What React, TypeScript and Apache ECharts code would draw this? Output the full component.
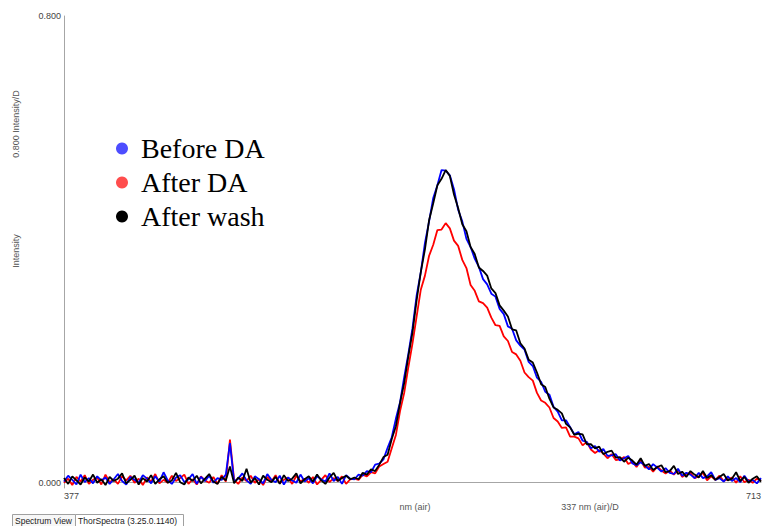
import React, { useEffect, useRef } from "react";
import * as echarts from "echarts";

// Wavelength grid (nm): 377 → 713, every 2 nm
const startNm = 377;
const stepNm = 2;

const xTicks = [377, 713];
const yTicks = [0, 0.8];

const seriesNames = ["Before DA", "After DA", "After wash"];

// Intensity values (377..515 nm baseline, then 517..713 nm)
const beforeDA = [
  0.002, 0.012, 0.005, -0.003, 0.014, 0.001, 0.008, -0.001, 0.011, 0.004,
  0.009, -0.002, 0.006, 0.015, 0.003, -0.003, 0.010, 0.005, 0.000, 0.013,
  0.007, -0.001, 0.011, 0.002, 0.018, 0.004, -0.002, 0.009, 0.013, 0.001,
  0.006, 0.015, -0.002, 0.010, 0.003, 0.012, 0.000, 0.008, 0.005, 0.014,
  0.068, 0.002, 0.007, 0.016, 0.004, -0.002, 0.011, 0.006, -0.001, 0.015,
  0.005, 0.001, 0.012, -0.003, 0.009, 0.004, 0.000, 0.014, 0.002, 0.008,
  -0.001, 0.011, 0.006, 0.002, 0.016, 0.003, 0.010, -0.002, 0.013, 0.007,
  0.006, 0.014, 0.012, 0.020, 0.018, 0.031, 0.033, 0.040, 0.060, 0.078,
  0.110, 0.138, 0.181, 0.221, 0.265, 0.321, 0.361, 0.411, 0.448, 0.488,
  0.510, 0.536, 0.535, 0.527, 0.503, 0.468, 0.448, 0.418, 0.404, 0.384,
  0.370, 0.349, 0.340, 0.324, 0.319, 0.298, 0.289, 0.268, 0.264, 0.244,
  0.235, 0.228, 0.207, 0.200, 0.180, 0.173, 0.156, 0.151, 0.130, 0.122,
  0.107, 0.107, 0.095, 0.083, 0.087, 0.072, 0.070, 0.059, 0.063, 0.053,
  0.058, 0.046, 0.047, 0.049, 0.038, 0.042, 0.046, 0.033, 0.030, 0.035,
  0.030, 0.023, 0.032, 0.026, 0.019, 0.025, 0.017, 0.015, 0.024, 0.012,
  0.017, 0.014, 0.008, 0.017, 0.008, 0.011, 0.018, 0.005, 0.008, 0.002,
  0.011, 0.003, 0.008, 0.001, 0.012, 0.002, 0.005, -0.001, 0.008,
];

const afterDA = [
  0.000, 0.007, -0.004, 0.010, 0.002, 0.013, -0.002, 0.005, 0.009, -0.003,
  0.014, 0.001, 0.006, -0.002, 0.011, 0.004, 0.012, 0.000, 0.007, -0.004,
  0.009, 0.002, 0.015, -0.001, 0.005, 0.000, 0.012, 0.003, 0.008, 0.014,
  -0.002, 0.006, -0.003, 0.011, 0.004, 0.000, 0.010, -0.002, 0.013, 0.002,
  0.074, 0.005, -0.002, 0.009, 0.003, 0.012, 0.000, 0.006, -0.004, 0.010,
  0.002, 0.013, -0.001, 0.005, 0.009, -0.002, 0.012, 0.002, 0.007, 0.000,
  0.010, -0.003, 0.005, 0.013, 0.001, 0.008, 0.003, 0.011, -0.002, 0.006,
  0.007, 0.005, 0.014, 0.011, 0.018, 0.016, 0.028, 0.032, 0.036, 0.059,
  0.082, 0.123, 0.154, 0.198, 0.239, 0.285, 0.331, 0.355, 0.389, 0.408,
  0.433, 0.434, 0.445, 0.436, 0.415, 0.406, 0.382, 0.368, 0.339, 0.329,
  0.311, 0.308, 0.300, 0.283, 0.270, 0.269, 0.251, 0.243, 0.224, 0.220,
  0.209, 0.189, 0.181, 0.175, 0.154, 0.141, 0.137, 0.129, 0.111, 0.105,
  0.094, 0.095, 0.079, 0.079, 0.076, 0.064, 0.070, 0.057, 0.051, 0.056,
  0.050, 0.042, 0.049, 0.039, 0.040, 0.044, 0.032, 0.036, 0.027, 0.038,
  0.026, 0.027, 0.019, 0.028, 0.021, 0.016, 0.021, 0.014, 0.022, 0.010,
  0.015, 0.017, 0.008, 0.011, 0.017, 0.004, 0.011, 0.005, 0.012, 0.003,
  0.006, 0.009, 0.000, 0.011, 0.001, 0.005, 0.000, 0.007, 0.003,
];

const afterWash = [
  0.008, -0.002, 0.011, 0.004, -0.003, 0.009, 0.002, 0.014, 0.000, 0.006,
  -0.004, 0.010, 0.003, 0.007, 0.016, -0.001, 0.005, 0.012, -0.003, 0.008,
  0.002, 0.013, -0.002, 0.006, 0.011, 0.000, 0.004, 0.017, 0.001, -0.003,
  0.009, 0.003, 0.012, -0.001, 0.007, 0.015, 0.002, -0.002, 0.010, 0.004,
  0.028, -0.001, 0.009, 0.003, 0.024, 0.000, 0.008, -0.003, 0.012, 0.005,
  0.001, 0.010, -0.002, 0.013, 0.003, 0.007, 0.016, -0.001, 0.006, 0.011,
  0.002, 0.014, 0.004, -0.002, 0.009, 0.017, 0.003, 0.008, 0.012, 0.006,
  0.009, 0.006, 0.017, 0.014, 0.023, 0.020, 0.031, 0.044, 0.048, 0.075,
  0.097, 0.137, 0.171, 0.217, 0.258, 0.313, 0.361, 0.400, 0.450, 0.479,
  0.510, 0.521, 0.536, 0.526, 0.494, 0.471, 0.443, 0.431, 0.404, 0.392,
  0.369, 0.363, 0.355, 0.333, 0.325, 0.304, 0.295, 0.285, 0.263, 0.261,
  0.239, 0.230, 0.211, 0.206, 0.189, 0.169, 0.164, 0.144, 0.129, 0.125,
  0.119, 0.101, 0.095, 0.082, 0.084, 0.083, 0.066, 0.066, 0.059, 0.062,
  0.049, 0.053, 0.055, 0.043, 0.044, 0.036, 0.043, 0.038, 0.031, 0.042,
  0.029, 0.032, 0.022, 0.027, 0.030, 0.018, 0.020, 0.029, 0.015, 0.019,
  0.010, 0.020, 0.014, 0.009, 0.020, 0.008, 0.013, 0.005, 0.010, 0.015,
  0.004, 0.007, 0.018, 0.003, 0.010, 0.000, 0.007, 0.011, 0.002,
];

const toPairs = (vals: number[]) => vals.map((v, i) => [startNm + i * stepNm, v]);

const labelFont = "'Liberation Sans', Arial, sans-serif";

export default function App() {
  const ref = useRef<HTMLDivElement>(null);

  useEffect(() => {
    if (!ref.current) return;
    const chart = echarts.init(ref.current, null, { renderer: "svg" });
    const lineSeries = (name: string, data: number[], color: string, z: number) => ({
      name,
      type: "line",
      data: toPairs(data),
      showSymbol: false,
      symbol: "none",
      lineStyle: { color, width: 1.8 },
      itemStyle: { color },
      z,
      emphasis: { disabled: true },
    });
    chart.setOption({
      animation: false,
      backgroundColor: "#ffffff",
      grid: { left: 64, right: 1, top: 16, bottom: 38, containLabel: false },
      xAxis: {
        type: "value",
        min: 377,
        max: 713,
        axisLine: { show: true, lineStyle: { color: "#a6a6a6", width: 1 } },
        axisTick: { show: false },
        splitLine: { show: false },
        axisLabel: {
          customValues: xTicks,
          alignMinLabel: "left",
          alignMaxLabel: "right",
          fontSize: 9,
          color: "#444",
          fontFamily: labelFont,
          margin: 3,
          formatter: (v: number) => String(Math.round(v)),
        },
      },
      yAxis: {
        type: "value",
        min: -0.009,
        max: 0.8,
        axisLine: { show: true, lineStyle: { color: "#a6a6a6", width: 1 } },
        axisTick: { show: false },
        splitLine: { show: false },
        axisLabel: {
          customValues: yTicks,
          fontSize: 9,
          color: "#444",
          fontFamily: labelFont,
          margin: 3,
          formatter: (v: number) => v.toFixed(3),
        },
      },
      legend: {
        orient: "vertical",
        left: 111,
        top: 129,
        icon: "circle",
        itemWidth: 28,
        itemHeight: 12,
        itemGap: 5,
        selectedMode: false,
        data: [
          { name: seriesNames[0], itemStyle: { color: "#4d4dff" } },
          { name: seriesNames[1], itemStyle: { color: "#ff4d4d" } },
          { name: seriesNames[2], itemStyle: { color: "#000000" } },
        ],
        textStyle: {
          fontFamily: "'Liberation Serif', 'Times New Roman', serif",
          fontSize: 28,
          lineHeight: 29,
          color: "#000",
        },
      },
      graphic: [
        {
          type: "text",
          x: 16,
          y: 251,
          rotation: Math.PI / 2,
          style: {
            text: "Intensity",
            fontSize: 9,
            fontFamily: labelFont,
            fill: "#555",
            align: "center",
            verticalAlign: "middle",
          },
        },
        {
          type: "text",
          x: 16,
          y: 124,
          rotation: Math.PI / 2,
          style: {
            text: "0.800 Intensity/D",
            fontSize: 9,
            fontFamily: labelFont,
            fill: "#555",
            align: "center",
            verticalAlign: "middle",
          },
        },
        {
          type: "text",
          x: 415,
          y: 507,
          style: {
            text: "nm (air)",
            fontSize: 9,
            fontFamily: labelFont,
            fill: "#555",
            align: "center",
            verticalAlign: "middle",
          },
        },
        {
          type: "text",
          x: 590,
          y: 507,
          style: {
            text: "337 nm (air)/D",
            fontSize: 9,
            fontFamily: labelFont,
            fill: "#555",
            align: "center",
            verticalAlign: "middle",
          },
        },
        {
          type: "rect",
          shape: { x: 12.5, y: 514.5, width: 63, height: 12 },
          style: { fill: "#f7f7f7", stroke: "#a0a0a0", lineWidth: 1 },
        },
        {
          type: "rect",
          shape: { x: 75.5, y: 514.5, width: 108, height: 12 },
          style: { fill: "#ffffff", stroke: "#a0a0a0", lineWidth: 1 },
        },
        {
          type: "text",
          x: 15,
          y: 520.5,
          style: {
            text: "Spectrum View",
            fontSize: 8.5,
            fontFamily: labelFont,
            fill: "#222",
            align: "left",
            verticalAlign: "middle",
          },
        },
        {
          type: "text",
          x: 78,
          y: 520.5,
          style: {
            text: "ThorSpectra (3.25.0.1140)",
            fontSize: 8.5,
            fontFamily: labelFont,
            fill: "#222",
            align: "left",
            verticalAlign: "middle",
          },
        },
      ],
      series: [
        lineSeries(seriesNames[1], afterDA, "#ff0000", 2),
        lineSeries(seriesNames[0], beforeDA, "#0000ff", 3),
        lineSeries(seriesNames[2], afterWash, "#000000", 4),
      ],
    });
    return () => chart.dispose();
  }, []);

  return (
    <div
      ref={ref}
      style={{ position: "fixed", left: 0, top: 0, width: 764, height: 526, background: "#fff" }}
    />
  );
}
